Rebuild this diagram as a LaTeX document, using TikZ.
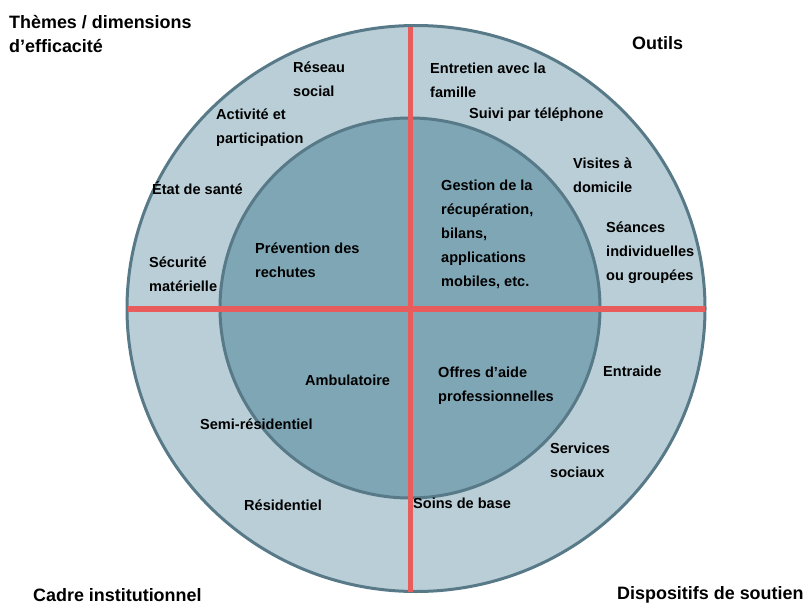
\documentclass[tikz,border=0pt]{standalone}
\usepackage{fontspec}
\setmainfont{Liberation Sans}
\usepackage{tikz}
\definecolor{ringlight}{RGB}{185,206,214}
\definecolor{ringdark}{RGB}{127,166,181}
\definecolor{rim}{RGB}{88,122,136}
\definecolor{split}{RGB}{232,92,92}
\tikzset{
  lbl/.style={anchor=west,inner sep=0pt,align=left,font=\fontsize{14.6}{24}\selectfont\bfseries},
  corner/.style={anchor=west,inner sep=0pt,align=left,font=\fontsize{18}{24}\selectfont\bfseries}
}

\begin{document}
\begin{tikzpicture}[x=1bp,y=-1bp]
                    \useasboundingbox (0,0) rectangle (812,605);
                    \coordinate (mid) at (410,308);
                    \coordinate (ntop) at (410,27);
                    \coordinate (nbot) at (410,592);
                    \coordinate (wleft) at (128,309);
                    \coordinate (eright) at (705,309);
                    \draw[rim,line width=3bp,fill=ringlight] (416,308.5) ellipse [x radius=289,y radius=283];
                    \draw[rim,line width=3bp,fill=ringdark] (mid) circle [radius=190];
                    \draw[split,line width=5bp] (ntop)--(nbot);
                    \draw[split,line width=6bp] (wleft)--(eright);
                    % corners
                    \node[corner] (themes) at (9,34){Thèmes / dimensions\\d’efficacité};
                    \node[corner] (outils) at (632,43){Outils};
                    \node[corner] (cadre) at (33,595){Cadre institutionnel};
                    \node[corner] (soutien) at (617,595){Dispositifs de soutien};
                    % top left
                    \node[lbl] (reseau) at (293,79.5){Réseau\\social};
                    \node[lbl] (activite) at (216,128){Activité et\\participation};
                    \node[lbl] (etat) at (152,188){État de santé};
                    \node[lbl] (securite) at (149,274){Sécurité\\matérielle};
                    \node[lbl] (prevention) at (255,260.5){Prévention des\\rechutes};
                    % top right
                    \node[lbl] (entretien) at (430,80){Entretien avec la\\famille};
                    \node[lbl] (suivi) at (469,115){Suivi par téléphone};
                    \node[lbl] (visites) at (573,175){Visites à\\domicile};
                    \node[lbl] (gestion) at (441,234.5){Gestion de la\\récupération,\\bilans,\\applications\\mobiles, etc.};
                    \node[lbl] (seances) at (606,253){Séances\\individuelles\\ou groupées};
                    % bottom right
                    \node[lbl] (entraide) at (603,371){Entraide};
                    \node[lbl] (offres) at (438,386){Offres d’aide\\professionnelles};
                    \node[lbl] (services) at (550,460){Services\\sociaux};
                    \node[lbl] (soins) at (413,503){Soins de base};
                    % bottom left
                    \node[lbl] (ambulatoire) at (305,380){Ambulatoire};
                    \node[lbl] (semi) at (200,424){Semi-résidentiel};
                    \node[lbl] (residentiel) at (244,505){Résidentiel};
                \end{tikzpicture}
\end{document}
